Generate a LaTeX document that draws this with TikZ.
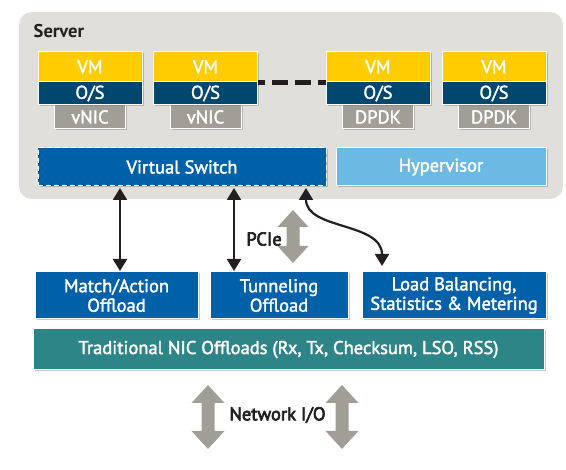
\documentclass[tikz,border=0pt]{standalone}
\usepackage{fontspec}
\setmainfont{PT Sans}[UprightFeatures={FakeBold=2}]
\newfontfamily\semifont{PT Sans}[UprightFeatures={FakeBold=3.5}]
\usetikzlibrary{arrows.meta,shadows}
\definecolor{srvgray}{HTML}{E0DFDB}
\definecolor{vmyellow}{HTML}{FFCC00}
\definecolor{osblue}{HTML}{00476E}
\definecolor{nicgray}{HTML}{A09E96}
\definecolor{swblue}{HTML}{0061A8}
\definecolor{hvblue}{HTML}{6CB9E3}
\definecolor{nicteal}{HTML}{2E8587}
\definecolor{dark}{HTML}{231F20}
\newcommand\dblgarrow[6]{% x, top, bottom, head half width, head length, shaft half width
  \fill[nicgray] (#1,#2) -- ({#1+#4},{#2+#5}) -- ({#1+#6},{#2+#5}) -- ({#1+#6},{#3-#5})
    -- ({#1+#4},{#3-#5}) -- (#1,#3) -- ({#1-#4},{#3-#5}) -- ({#1-#6},{#3-#5})
    -- ({#1-#6},{#2+#5}) -- ({#1-#4},{#2+#5}) -- cycle;}
\begin{document}
\begin{tikzpicture}[x=1pt,y=-1pt,
  font=\fontsize{18.5}{20}\selectfont,
  shd/.style={drop shadow={opacity=0.35,shadow xshift=1.5pt,shadow yshift=-1.5pt,fill=black!60}},
  box/.style={draw=white, line width=1pt, text=white, inner sep=0pt, align=center, shd},
  vmbox/.style={box, fill=vmyellow, minimum width=104, minimum height=30},
  osbox/.style={box, fill=osblue, minimum width=104, minimum height=23},
  nicbox/.style={box, fill=nicgray, minimum width=71, minimum height=24},
  offbox/.style={box, fill=swblue, minimum height=47, font=\fontsize{18.5}{19.5}\selectfont},
  blk/.style={draw=dark, line width=2.2pt, {Triangle[width=14pt,length=12pt]}-{Triangle[width=14pt,length=12pt]}},
  dtext/.style={text=dark, inner sep=0pt, font=\fontsize{18.5}{20}\semifont}]
\useasboundingbox (0,0) rectangle (566,470);
% server
\fill[srvgray, rounded corners=13pt] (19,12) rectangle (563,199);
\node[dtext, anchor=west, font=\fontsize{18.5}{20}\selectfont\bfseries] (server) at (33.5,31) {Server};
% VMs
\node[nicbox] (nic1) at (90,117) {vNIC};
\node[vmbox] (vm1) at (90,67) {VM};
\node[osbox] (os1) at (90,93.5) {O/S};
\node[nicbox] (nic2) at (205.5,117) {vNIC};
\node[vmbox] (vm2) at (205.5,67) {VM};
\node[osbox] (os2) at (205.5,93.5) {O/S};
\node[nicbox] (nic3) at (378,117) {DPDK};
\node[vmbox] (vm3) at (378,67) {VM};
\node[osbox] (os3) at (378,93.5) {O/S};
\node[nicbox] (nic4) at (494,117) {DPDK};
\node[vmbox] (vm4) at (494,67) {VM};
\node[osbox] (os4) at (494,93.5) {O/S};
\draw[dark, line width=4.5pt, dash pattern=on 16pt off 7pt, dash phase=9pt] (vm2.south east) -- (vm3.south west);
% switch & hypervisor
\node[box, fill=swblue, dashed, dash pattern=on 5pt off 3pt, minimum width=288, minimum height=38] (sw) at (182,167) {Virtual Switch};
\node[box, fill=hvblue, minimum width=210, minimum height=38] (hv) at (441,167) {Hypervisor};
% offload boxes
\node[offbox, minimum width=163] (match) at (116.5,295.5) {Match/Action\\Offload};
\node[offbox, minimum width=138] (tun) at (279,295.5) {Tunneling\\Offload};
\node[offbox, minimum width=184] (lb) at (454,295.5) {Load Balancing,\\Statistics \& Metering};
\node[box, fill=nicteal, minimum width=511, minimum height=41] (trad) at (288.5,349.5) {Traditional NIC Offloads (Rx, Tx, Checksum, LSO, RSS)};
% connectors
\coordinate (a1) at (120,0);
\coordinate (a2) at (234,0);
\coordinate (cs) at (306,188);
\coordinate (ce) at (382,266);
\draw[blk] ([yshift=-1.5pt]sw.south -| a1) -- ([yshift=0.5pt]match.north -| a1);
\draw[blk] ([yshift=-1.5pt]sw.south -| a2) -- ([yshift=0.5pt]tun.north -| a2);
\draw[blk] (cs) .. controls (306,230) and (382,222) .. (ce);
% gray arrows
\dblgarrow{293}{210}{263}{15.5}{17}{6.5}
\node[dtext] (pcie) at (264,239) {PCIe};
\dblgarrow{208}{385}{449}{16.5}{18}{6.5}
\dblgarrow{342}{385}{449}{16.5}{18}{6.5}
\node[dtext] (nio) at (277.5,415) {Network I/O};
\end{tikzpicture}
\end{document}
